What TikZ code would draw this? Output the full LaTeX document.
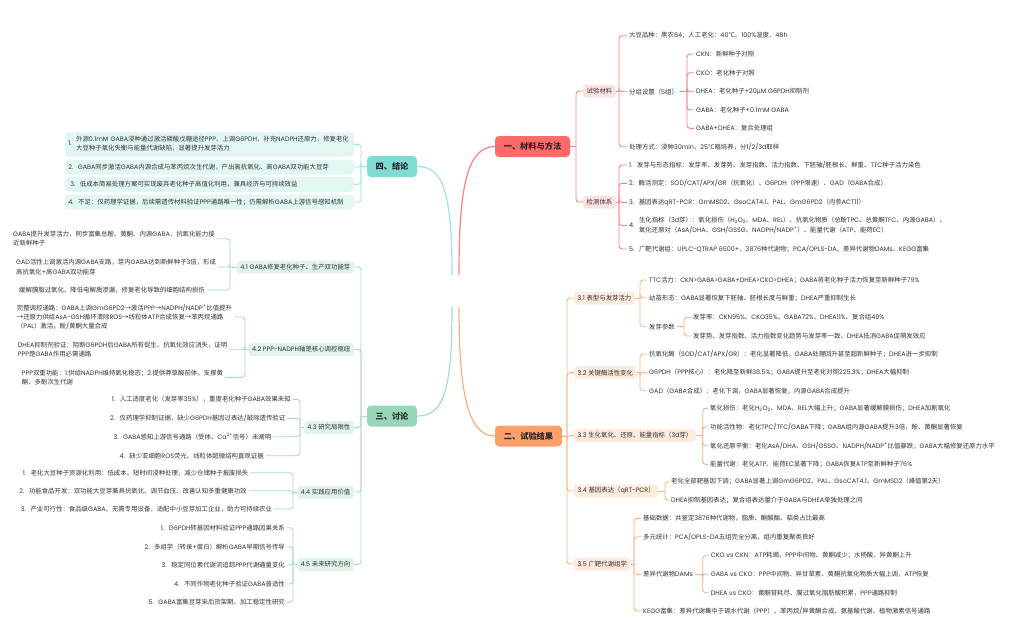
\documentclass[tikz,border=0pt]{standalone}
\usepackage{fontspec}
\setmainfont{Poppins}
\newfontfamily\cjkfont{Noto Sans CJK SC}
\usetikzlibrary{calc}
\XeTeXinterchartokenstate=1
\newXeTeXintercharclass\CJKcls
\newcount\cjkcc
\cjkcc="4E00 \loop\XeTeXcharclass\cjkcc=\CJKcls \advance\cjkcc by 1 \ifnum\cjkcc<"A000 \repeat
\cjkcc="3000 \loop\XeTeXcharclass\cjkcc=\CJKcls \advance\cjkcc by 1 \ifnum\cjkcc<"3040 \repeat
\cjkcc="FF00 \loop\XeTeXcharclass\cjkcc=\CJKcls \advance\cjkcc by 1 \ifnum\cjkcc<"FFF0 \repeat
\XeTeXcharclass"2103=\CJKcls
\XeTeXcharclass"03BC=\CJKcls
\XeTeXcharclass"2192=\CJKcls
\XeTeXinterchartoks 0 \CJKcls = {\cjkfont}
\XeTeXinterchartoks 4095 \CJKcls = {\cjkfont}
\XeTeXinterchartoks \CJKcls 0 = {\rmfamily}
\XeTeXinterchartoks \CJKcls 4095 = {\rmfamily}
\definecolor{redL}{HTML}{FF8080}
\definecolor{redM}{HTML}{FF6B6B}
\definecolor{redS}{HTML}{FDE2E2}
\definecolor{orangeL}{HTML}{FFAE7A}
\definecolor{orangeM}{HTML}{FFA06A}
\definecolor{orangeS}{HTML}{FEEBDD}
\definecolor{tealL}{HTML}{9DE5DD}
\definecolor{tealM}{HTML}{7EDCD2}
\definecolor{tealS}{HTML}{E2F7F4}
\definecolor{greenL}{HTML}{A6DCC2}
\definecolor{greenM}{HTML}{97D6B8}
\definecolor{greenS}{HTML}{E2F4EA}
\definecolor{txtc}{HTML}{333333}
\newcommand\fs{\fontsize{6.4}{9.3}\selectfont}
\newcommand\nb[1]{#1.\hspace{4.5pt}}
\newcommand\brR[4]{\draw[#1] let \p1=(#2.east) in (#2.east) -- (#3pt,\y1) coordinate (tmpb);
  \foreach \c in {#4}{\draw[#1,rounded corners=3pt] (tmpb) |- (\c.west);}}
\newcommand\brL[4]{\draw[#1] let \p1=(#2.west) in (#2.west) -- (#3pt,\y1) coordinate (tmpb);
  \foreach \c in {#4}{\draw[#1,rounded corners=3pt] (tmpb) |- (\c.east);}}
\begin{document}
\begin{tikzpicture}[x=1pt,y=-1pt,
  mainbox/.style={rounded corners=4pt,minimum height=21pt,inner xsep=6pt,inner ysep=0pt,font=\fontsize{8.2}{9}\selectfont\bfseries,text=black!85},
  sub/.style={anchor=west,rounded corners=3pt,minimum height=13pt,inner xsep=3.5pt,inner ysep=0pt,font=\fs,text=txtc},
  subL/.style={sub,anchor=east},
  leaf/.style={anchor=west,inner xsep=2pt,inner ysep=1pt,font=\fs,text=txtc},
  leafL/.style={leaf,anchor=east},
  cbox/.style={anchor=east,fill=tealS,rounded corners=4pt,text width=282pt,align=left,inner xsep=3.5pt,inner ysep=3pt,minimum height=15pt,font=\fs,text=txtc},
  rl/.style={draw=redL,line width=0.9pt},
  ol/.style={draw=orangeL,line width=0.9pt},
  tl/.style={draw=tealL,line width=0.9pt},
  gl/.style={draw=greenL,line width=0.9pt}]
\useasboundingbox[fill=white] (0,0) rectangle (1024,632);

% main topics
\node[mainbox,fill=redM,minimum width=75pt] (m1) at (532.5,146.5) {一、材料与方法};
\node[mainbox,fill=orangeM,minimum width=67pt] (m2) at (528.5,436) {二、试验结果};
\node[mainbox,fill=greenM,minimum width=50pt] (m3) at (392,416) {三、讨论};
\node[mainbox,fill=tealM,minimum width=50pt] (m4) at (392,166.5) {四、结论};

\coordinate (cNE) at (459,275);
\coordinate (cNW) at (452,275);
\coordinate (cSW) at (452,307);
\coordinate (cSE) at (459,307);
\draw[rl,line width=1.2pt] (cNE) .. controls (459,195) and (465,146.5) .. (m1.west);
\draw[tl,line width=1.2pt] (cNW) .. controls (452,195) and (444,166.5) .. (m4.east);
\draw[gl,line width=1.2pt] (cSW) .. controls (452,390) and (444,416) .. (m3.east);
\draw[ol,line width=1.2pt] (cSE) .. controls (459,390) and (467,436) .. (m2.west);

% ---------- red: materials ----------
\node[sub,fill=redS] (r1) at (583,91) {试验材料};
\node[sub,fill=redS] (r2) at (583,202) {检测体系};
\brR{rl}{m1}{576}{r1,r2}

\node[leaf] (r1a) at (627,35.7) {大豆品种：黑农84；人工老化：40℃、100\%湿度、48h};
\node[leaf] (r1b) at (627,91.7) {分组设置（5组）};
\node[leaf] (r1c) at (627,146.7) {处理方式：浸种30min，25℃暗培养，分1/2/3d取样};
\brR{rl}{r1}{619}{r1a,r1b,r1c}

\node[leaf] (r1b1) at (694,54) {CKN：新鲜种子对照};
\node[leaf] (r1b2) at (694,72.7) {CKO：老化种子对照};
\node[leaf] (r1b3) at (694,91.7) {DHEA：老化种子+20μM G6PDH抑制剂};
\node[leaf] (r1b4) at (694,110) {GABA：老化种子+0.1mM GABA};
\node[leaf] (r1b5) at (694,128.3) {GABA+DHEA：复合处理组};
\brR{rl}{r1b}{687}{r1b1,r1b2,r1b3,r1b4,r1b5}

\node[leaf] (r2a) at (627,165) {\nb{1}发芽与形态指标：发芽率、发芽势、发芽指数、活力指数、下胚轴/胚根长、鲜重、TTC种子活力染色};
\node[leaf] (r2b) at (627,183.3) {\nb{2}酶活测定：SOD/CAT/APX/GR（抗氧化）、G6PDH（PPP限速）、GAD（GABA合成）};
\node[leaf] (r2c) at (627,202.3) {\nb{3}基因表达qRT-PCR：GmMSD2、GsoCAT4.1、PAL、GmG6PD2（内参ACT11）};
\node[leaf] (r2d) at (627,225.5) {\nb{4}\begin{tabular}[c]{@{}l@{}}生化指标（3d芽）：氧化损伤（H\textsubscript{2}O\textsubscript{2}、MDA、REL）、抗氧化物质（总酚TPC、总黄酮TFC、内源GABA）、\\氧化还原对（AsA/DHA、GSH/GSSG、NADPH/NADP\textsuperscript{+}）、能量代谢（ATP、能荷EC）\end{tabular}};
\node[leaf] (r2e) at (627,249) {\nb{5}广靶代谢组：UPLC-QTRAP 6500+，3876种代谢物；PCA/OPLS-DA、差异代谢物DAMs、KEGG富集};
\brR{rl}{r2}{619}{r2a,r2b,r2c,r2d,r2e}

% ---------- orange: results ----------
\node[sub,fill=orangeS] (o1) at (574,298) {3.1 表型与发芽活力};
\node[sub,fill=orangeS] (o2) at (574,372.6) {3.2 关键酶活性变化};
\node[sub,fill=orangeS] (o3) at (574,435.5) {3.3 生化氧化、还原、能量指标（3d芽）};
\node[sub,fill=orangeS] (o4) at (574,491) {3.4 基因表达（qRT-PCR）};
\node[sub,fill=orangeS] (o5) at (574,564) {3.5 广靶代谢组学};
\brR{ol}{m2}{567}{o1,o2,o3,o4,o5}

\node[leaf] (o1a) at (647,280) {TTC活力：CKN>GABA>GABA+DHEA>CKO>DHEA；GABA将老化种子活力恢复至新鲜种子79\%};
\node[leaf] (o1b) at (647,298) {幼苗形态：GABA显著恢复下胚轴、胚根长度与鲜重；DHEA严重抑制生长};
\node[leaf] (o1c) at (647,326.7) {发芽参数};
\brR{ol}{o1}{640}{o1a,o1b,o1c}
\node[leaf] (o1c1) at (691,317.3) {发芽率：CKN95\%、CKO35\%、GABA72\%、DHEA11\%、复合组49\%};
\node[leaf] (o1c2) at (691,336) {发芽势、发芽指数、活力指数变化趋势与发芽率一致，DHEA抵消GABA促萌发效应};
\brR{ol}{o1c}{684}{o1c1,o1c2}

\node[leaf] (o2a) at (647,354) {抗氧化酶（SOD/CAT/APX/GR）：老化显著降低，GABA处理回升甚至超新鲜种子；DHEA进一步抑制};
\node[leaf] (o2b) at (647,372.3) {G6PDH（PPP核心）：老化降至新鲜38.5\%；GABA提升至老化对照225.3\%；DHEA大幅抑制};
\node[leaf] (o2c) at (647,390.7) {GAD（GABA合成）：老化下调，GABA显著恢复，内源GABA合成提升};
\brR{ol}{o2}{640}{o2a,o2b,o2c}

\node[leaf] (o3a) at (708,408.3) {氧化损伤：老化H\textsubscript{2}O\textsubscript{2}、MDA、REL大幅上升；GABA显著缓解膜损伤；DHEA加剧氧化};
\node[leaf] (o3b) at (708,426.7) {功能活性物：老化TPC/TFC/GABA下降；GABA组内源GABA提升3倍，酚、黄酮显著恢复};
\node[leaf] (o3c) at (708,445.7) {氧化还原平衡：老化AsA/DHA、GSH/GSSG、NADPH/NADP\textsuperscript{+}比值暴跌；GABA大幅修复还原力水平};
\node[leaf] (o3d) at (708,464.3) {能量代谢：老化ATP、能荷EC显著下降；GABA恢复ATP至新鲜种子76\%};
\brR{ol}{o3}{702.7}{o3a,o3b,o3c,o3d}

\node[leaf] (o4a) at (669,481.7) {老化全部靶基因下调；GABA显著上调GmG6PD2、PAL、GsoCAT4.1、GmMSD2（峰值第2天）};
\node[leaf] (o4b) at (669,500) {DHEA抑制基因表达；复合组表达量介于GABA与DHEA单独处理之间};
\brR{ol}{o4}{665}{o4a,o4b}

\node[leaf] (o5a) at (641,518.3) {基础数据：共鉴定3876种代谢物，脂质、酮酸酯、萜类占比最高};
\node[leaf] (o5b) at (641,536.7) {多元统计：PCA/OPLS-DA五组完全分离，组内重复聚类良好};
\node[leaf] (o5c) at (641,574.3) {差异代谢物DAMs};
\node[leaf] (o5d) at (641,611) {KEGG富集：差异代谢集中于碳水代谢（PPP）、苯丙烷/异黄酮合成、氨基酸代谢、植物激素信号通路};
\brR{ol}{o5}{634}{o5a,o5b,o5c,o5d}
\node[leaf] (o5c1) at (708.7,555.7) {CKO vs CKN：ATP耗竭、PPP中间物、黄酮减少；水杨酸、异黄酮上升};
\node[leaf] (o5c2) at (708.7,574) {GABA vs CKO：PPP中间物、异甘草素、黄酮抗氧化物质大幅上调，ATP恢复};
\node[leaf] (o5c3) at (708.7,592.7) {DHEA vs CKO：黄酮苷耗尽、膜过氧化脂肪酸积累，PPP通路抑制};
\brR{ol}{o5c}{702.7}{o5c1,o5c2,o5c3}

% ---------- teal: conclusions ----------
\node[cbox] (t1) at (354,144.3) {\nb{1}\begin{tabular}[c]{@{}l@{}}外源0.1mM GABA浸种通过激活磷酸戊糖途径PPP、上调G6PDH，补充NADPH还原力，修复老化\\大豆种子氧化失衡与能量代谢缺陷，显著提升发芽活力\end{tabular}};
\node[cbox] (t2) at (354,167) {\nb{2}GABA同步激活GABA内源合成与苯丙烷次生代谢，产出高抗氧化、高GABA双功能大豆芽};
\node[cbox] (t3) at (354,184.3) {\hspace{2pt}\nb{3}低成本简易处理方案可实现废弃老化种子高值化利用，兼具经济与可持续效益};
\node[cbox] (t4) at (354,202.2) {\nb{4}不足：仅药理学证据，后续需遗传材料验证PPP通路唯一性；仍需解析GABA上游信号感知机制};
\brL{tl}{m4}{361}{t1,t2,t3,t4}

% ---------- green: discussion ----------
\node[subL,fill=greenS] (g1) at (354,267) {4.1 GABA修复老化种子、生产双功能芽};
\node[subL,fill=greenS] (g2) at (354,349.5) {4.2 PPP-NADPH轴是核心调控枢纽};
\node[subL,fill=greenS] (g3) at (354,427.5) {4.3 研究局限性};
\node[subL,fill=greenS] (g4) at (354,492) {4.4 实践应用价值};
\node[subL,fill=greenS] (g5) at (354,564.3) {4.5 未来研究方向};
\brL{gl}{m3}{361}{g1,g2,g3,g4,g5}

\node[leaf,align=left] (g1a) at (11,238.7) {GABA提升发芽活力，同步富集总酚、黄酮、内源GABA，抗氧化能力接\\近新鲜种子};
\node[leaf,align=left] (g1b) at (14,267) {GAD活性上调激活内源GABA支路，芽内GABA达到新鲜种子3倍，形成\\高抗氧化+高GABA双功能芽};
\node[leaf,align=left] (g1c) at (17,290) {缓解膜脂过氧化、降低电解质渗漏，修复老化导致的细胞结构损伤};
\brL{gl}{g1}{230}{g1a,g1b,g1c}

\node[leaf,align=left] (g2a) at (14.7,317) {完整调控通路：GABA上调GmG6PD2→激活PPP→NADPH/NADP\textsuperscript{+}比值提升\\→还原力供给AsA-GSH循环清除ROS→线粒体ATP合成恢复→苯丙烷通路\\（PAL）激活，酚/黄酮大量合成};
\node[leaf,align=left] (g2b) at (15.7,349.7) {DHEA抑制剂验证：阻断G6PDH后GABA所有促生、抗氧化效应消失，证明\\PPP是GABA作用必需通路};
\node[leaf,align=left] (g2c) at (19.7,377.3) {PPP双重功能：1.供给NADPH维持氧化稳态；2.提供莽草酸前体，支撑黄\\酮、多酚次生代谢};
\brL{gl}{g2}{245}{g2a,g2b,g2c}

\node[leaf] (g3a) at (109.7,399.3) {\nb{1}人工适度老化（发芽率35\%），重度老化种子GABA效果未知};
\node[leaf] (g3b) at (108,418.3) {\nb{2}仅药理学抑制证据，缺少G6PDH基因过表达/敲除遗传验证};
\node[leaf] (g3c) at (111.3,436.7) {\nb{3}GABA感知上游信号通路（受体、Ca\textsuperscript{2+}信号）未阐明};
\node[leaf] (g3d) at (117.3,455.7) {\nb{4}缺少亚细胞ROS荧光、线粒体超微结构直观证据};
\brL{gl}{g3}{300}{g3a,g3b,g3c,g3d}

\node[leaf] (g4a) at (20.7,472.7) {\nb{1}老化大豆种子资源化利用：低成本、短时间浸种处理，减少仓储种子报废损失};
\node[leaf] (g4b) at (17.3,490.7) {\nb{2}功能食品开发：双功能大豆芽兼具抗氧化、调节血压、改善认知多重健康功效};
\node[leaf] (g4c) at (18.7,509) {\nb{3}产业可行性：食品级GABA、无需专用设备，适配中小豆芽加工企业，助力可持续农业};
\brL{gl}{g4}{293}{g4a,g4b,g4c}

\node[leafL] (g5a) at (287,527.7) {\nb{1}G6PDH转基因材料验证PPP通路因果关系};
\node[leafL] (g5b) at (287,546.7) {\nb{2}多组学（转录+蛋白）解析GABA早期信号传导};
\node[leafL] (g5c) at (287,565) {\nb{3}稳定同位素代谢流追踪PPP代谢通量变化};
\node[leafL] (g5d) at (287,584) {\nb{4}不同作物老化种子验证GABA普适性};
\node[leafL] (g5e) at (287,602.3) {\nb{5}GABA富集豆芽采后货架期、加工稳定性研究};
\brL{gl}{g5}{293}{g5a,g5b,g5c,g5d,g5e}
\end{tikzpicture}
\end{document}
